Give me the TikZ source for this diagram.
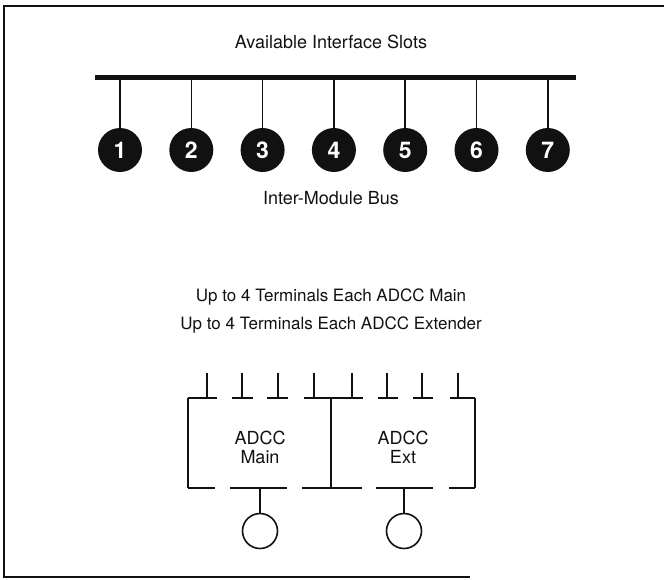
\documentclass[tikz,border=0pt]{standalone}
\usepackage{fontspec}
\setmainfont{TeX Gyre Heros}
\definecolor{ifcInk}{HTML}{111111}
\tikzset{
  ifc frame/.style={draw=ifcInk, line width=2pt},
  ifc bus/.style={draw=ifcInk, line width=5pt},
  ifc line/.style={draw=ifcInk, line width=1.6pt},
  ifc slot/.style={circle, fill=ifcInk, text=white, minimum size=44pt, inner sep=0pt, font=\fontsize{23}{23}\selectfont\bfseries},
  ifc port/.style={circle, draw=ifcInk, line width=1.6pt, minimum size=35pt, inner sep=0pt},
  ifc label/.style={font=\fontsize{18}{28}\selectfont, text=ifcInk, align=center},
  ifc terms label/.style={font=\fontsize{17}{28}\selectfont, text=ifcInk, align=center},
  ifc box label/.style={font=\fontsize{18}{19}\selectfont, text=ifcInk, align=center},
}
\begin{document}
\begin{tikzpicture}[x=1pt,y=-1pt]
  \useasboundingbox (0,0) rectangle (664,579);
  % Open frame round the figure
  \draw[ifc frame] (664,6) -- (4,6) -- (4,577) -- (470,577);

  \node[ifc label] (title) at (331,42) {Available Interface Slots};

  % Bus bar with seven slots hanging from it
  \coordinate (busL) at (95,77);
  \coordinate (busR) at (576,77);
  \draw[ifc bus] (busL) -- (busR);
  \foreach \n in {1,...,7} {
    \node[ifc slot] (slot\n) at ({120+71.3*(\n-1)},150) {\n};
    \draw[ifc line] (slot\n.north |- busL) -- (slot\n);
  }
  \node[ifc label] (imb) at (331,198) {Inter-Module Bus};

  \node[ifc terms label] (terms) at (331,311) {Up to 4 Terminals Each ADCC Main\\Up to 4 Terminals Each ADCC Extender};

  % Main and extender boxes, outline broken between terminals
  \foreach \a/\b in {188/217,232/253,267/288,304/363,378/398,413/433,450/475}
    \draw[ifc line] (\a,398) -- (\b,398);
  \foreach \a/\b in {188/215,230/287,302/362,376/433,449/475}
    \draw[ifc line] (\a,488) -- (\b,488);
  \foreach \x in {188,331,475}
    \draw[ifc line] (\x,398) -- (\x,488);

  % Terminal stems on top
  \foreach \x in {207,242,278,314,352,387,422,458}
    \draw[ifc line] (\x,373) -- (\x,398);

  \node[ifc box label] (main) at (260,447) {ADCC\\Main};
  \node[ifc box label] (ext) at (403,447) {ADCC\\Ext};

  % One port below each box
  \node[ifc port] (mainPort) at (260,531) {};
  \node[ifc port] (extPort) at (404,531) {};
  \draw[ifc line] (mainPort.north |- 0,488) -- (mainPort);
  \draw[ifc line] (extPort.north |- 0,488) -- (extPort);
\end{tikzpicture}
\end{document}
